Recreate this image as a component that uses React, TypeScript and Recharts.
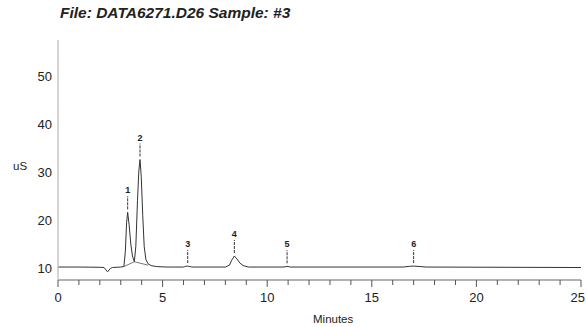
import React from "react";
import {
  ComposedChart,
  Line,
  Scatter,
  XAxis,
  YAxis,
} from "recharts";

// conductivity trace (minutes, uS)
const times = [
  0, 1.0, 2.0, 2.2, 2.37, 2.5, 2.6, 3.0, 3.15, 3.22, 3.28, 3.33, 3.4, 3.48, 3.56,
  3.65, 3.72, 3.8, 3.86, 3.92, 3.98, 4.05, 4.12, 4.2, 4.3, 4.45, 4.7, 5.2, 6.0,
  6.1, 6.2, 6.3, 6.4, 8.0, 8.2, 8.3, 8.43, 8.55, 8.7, 8.85, 9.1, 10.8, 10.95,
  11.1, 16.5, 16.8, 17.0, 17.3, 17.6, 25,
];
const signal = [
  10.2, 10.2, 10.15, 10.1, 9.2, 9.9, 10.1, 10.2, 10.3, 13.5, 19.5, 21.6, 19.0,
  15.0, 12.5, 11.3, 14.5, 24.0, 30.0, 32.6, 29.0, 21.0, 14.5, 11.8, 10.9, 10.5,
  10.3, 10.2, 10.2, 10.35, 10.4, 10.3, 10.2, 10.2, 10.6, 11.6, 12.5, 11.9, 11.0,
  10.5, 10.2, 10.2, 10.35, 10.2, 10.2, 10.35, 10.4, 10.3, 10.2, 10.1,
];

// integration baseline drawn under peaks 1 and 2
const baseTimes = [3.15, 3.65, 4.3];
const baseValues = [10.3, 11.3, 10.6];

// numbered peak markers
const peakNumbers = ["1", "2", "3", "4", "5", "6"];
const peakTimes = [3.33, 3.92, 6.2, 8.43, 10.95, 17.0];
const peakTops = [21.6, 32.6, 10.4, 12.5, 10.35, 10.4];

const xTicks = [
  0, 1, 2, 3, 4, 5, 6, 7, 8, 9, 10, 11, 12, 13, 14, 15, 16, 17, 18, 19, 20, 21,
  22, 23, 24, 25,
];
const yTicks = [10, 20, 30, 40, 50];

const trace = times.map((t, i) => ({ t, v: signal[i] }));
const baseline = baseTimes.map((t, i) => ({ t, v: baseValues[i] }));
const peaks = peakTimes.map((t, i) => ({ t, v: peakTops[i], n: peakNumbers[i] }));

const font = "'Liberation Sans', Arial, Helvetica, sans-serif";

function XTick(props: any) {
  const { x, y, payload } = props;
  const major = payload.value % 5 === 0;
  // last label sits against the right edge, keep it inside the frame
  const last = payload.value === xTicks[xTicks.length - 1];
  return (
    <g>
      <line x1={x} x2={x} y1={y} y2={y + (major ? 7 : 5)} stroke="#555" />
      {major && (
        <text
          x={last ? x + 4 : x}
          y={y + 22}
          textAnchor={last ? "end" : "middle"}
          fontSize={13}
          fontFamily={font}
          fill="#222"
        >
          {payload.value}
        </text>
      )}
    </g>
  );
}

function PeakMark(props: any) {
  const { cx, cy, payload } = props;
  return (
    <g>
      <line
        x1={cx}
        x2={cx}
        y1={cy - 3}
        y2={cy - 16}
        stroke="#333"
        strokeDasharray="3 1"
      />
      <text
        x={cx}
        y={cy - 19}
        textAnchor="middle"
        fontSize={9}
        fontWeight="bold"
        fontFamily={font}
        fill="#222"
      >
        {payload.n}
      </text>
    </g>
  );
}

export default function App() {
  return (
    <div
      style={{
        position: "absolute",
        left: 0,
        top: 0,
        width: 586,
        height: 327,
        background: "#fff",
        fontFamily: font,
      }}
    >
      <div
        style={{
          position: "absolute",
          left: 60,
          top: 4,
          fontSize: 15.5,
          fontStyle: "italic",
          fontWeight: "bold",
          color: "#222",
          whiteSpace: "nowrap",
        }}
      >
        File: DATA6271.D26 Sample: #3
      </div>
      <div
        style={{
          position: "absolute",
          left: 13,
          top: 160,
          fontSize: 11.5,
          color: "#222",
        }}
      >
        uS
      </div>
      <div
        style={{
          position: "absolute",
          left: 313,
          top: 313,
          fontSize: 11.5,
          color: "#222",
        }}
      >
        Minutes
      </div>
      <ComposedChart
        width={586}
        height={327}
        margin={{ top: 40, right: 5, bottom: 17, left: 18 }}
      >
        <XAxis
          type="number"
          dataKey="t"
          domain={[0, 25]}
          ticks={xTicks}
          interval={0}
          height={30}
          tickSize={0}
          tickMargin={0}
          tickLine={false}
          tick={<XTick />}
          axisLine={{ stroke: "#666" }}
          allowDataOverflow
        />
        <YAxis
          type="number"
          domain={[7.5, 57.5]}
          ticks={yTicks}
          width={40}
          tickSize={0}
          tickMargin={6}
          tickLine={false}
          axisLine={{ stroke: "#aaa" }}
          tick={{ fontSize: 13, fill: "#222", fontFamily: font }}
          allowDataOverflow
        />
        <Line
          data={trace}
          dataKey="v"
          type="linear"
          stroke="#333"
          strokeWidth={1}
          dot={false}
          isAnimationActive={false}
        />
        <Line
          data={baseline}
          dataKey="v"
          type="linear"
          stroke="#555"
          strokeWidth={0.8}
          dot={false}
          isAnimationActive={false}
        />
        <Scatter
          data={peaks}
          dataKey="v"
          shape={<PeakMark />}
          isAnimationActive={false}
        />
      </ComposedChart>
    </div>
  );
}
